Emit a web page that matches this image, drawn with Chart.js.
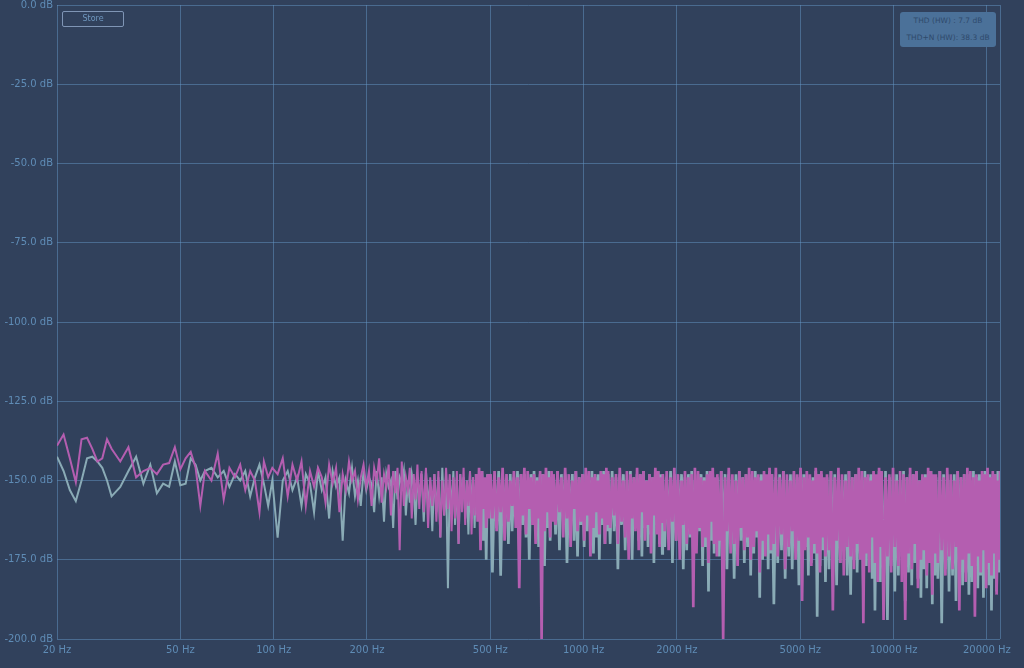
<!DOCTYPE html>
<html>
<head>
<meta charset="utf-8">
<script src="https://cdn.jsdelivr.net/npm/chart.js@4.4.0/dist/chart.umd.min.js"></script>
<style>
  html, body { margin: 0; padding: 0; background: #31415c; }
  #wrap { position: relative; width: 1024px; height: 668px; }
  #store {
    position: absolute; left: 62px; top: 11px; width: 60px; height: 14px;
    border: 1px solid #7f95b5; border-radius: 2px;
    color: #6f97bf; font: 8px "DejaVu Sans", sans-serif; line-height: 14px; text-align: center;
  }
  #thd {
    position: absolute; left: 900px; top: 12px; width: 96px; height: 35px;
    background: #4b7199; border-radius: 3px;
    color: #2f4a6c; font: 7.5px "DejaVu Sans", sans-serif; text-align: center;
  }
  #thd div { height: 17px; line-height: 18px; }
</style>
</head>
<body>
<div id="wrap">
  <canvas id="spectrumChart" width="1024" height="668"></canvas>
  <div id="store">Store</div>
  <div id="thd"><div>THD (HW) : 7.7 dB</div><div>THD+N (HW): 38.3 dB</div></div>
</div>
<script>
// frequency of each plotted bin (Hz)
const freqs = [
  20, 21, 22, 23, 24, 25, 26, 27, 28, 29, 30,
  32, 34, 36, 38, 40, 42, 44, 46, 48, 50, 52, 54, 56, 58, 60,
  63, 66, 69, 72, 75, 78, 81, 84, 87, 90, 93, 96, 99,
  103, 107, 111, 115, 119, 123, 127, 131, 135, 139, 143, 147, 151, 155, 159, 163, 167, 171, 175, 179, 183, 187, 191, 195, 199,
  203, 207, 211, 215, 219, 223, 227, 231, 235, 239, 243, 247, 251, 255, 259, 263, 267, 271, 275, 279, 283, 287, 291, 295, 299,
  300, 305, 310, 315, 320, 325, 330, 335, 340, 345, 350, 355, 360, 365, 370, 375, 380, 385, 390, 395,
  400, 405, 410, 415, 420, 425, 430, 435, 440, 445, 450, 455, 460, 465, 470, 475, 480, 485, 490, 495,
  500, 508, 516, 524, 532, 540, 548, 556, 564, 572, 580, 588, 596, 604, 612, 620, 628, 636, 644,
  652, 660, 668, 676, 684, 692, 700, 708, 716, 724, 732, 740, 748, 756, 764, 772, 780, 788, 796,
  800, 812, 824, 836, 848, 860, 872, 884, 896, 908, 920, 932, 944, 956, 968, 980, 992,
  1004, 1016, 1028, 1040, 1052, 1064, 1076, 1088, 1100, 1112, 1124, 1136, 1148, 1160, 1172, 1184, 1196,
  1200, 1218, 1236, 1254, 1272, 1290, 1308, 1326, 1344, 1362, 1380, 1398, 1416, 1434, 1452, 1470, 1488,
  1506, 1524, 1542, 1560, 1578, 1596, 1614, 1632, 1650, 1668, 1686, 1704, 1722, 1740, 1758, 1776, 1794,
  1800, 1827, 1854, 1881, 1908, 1935, 1962, 1989, 2016, 2043, 2070, 2097, 2124, 2151, 2178, 2205, 2232,
  2259, 2286, 2313, 2340, 2367, 2394, 2421, 2448, 2475, 2502, 2529, 2556, 2583, 2610, 2637, 2664, 2691,
  2700, 2740, 2780, 2820, 2860, 2900, 2940, 2980, 3020, 3060, 3100, 3140, 3180, 3220, 3260, 3300, 3340,
  3380, 3420, 3460, 3500, 3540, 3580, 3620, 3660, 3700, 3740, 3780, 3820, 3860, 3900, 3940, 3980, 4020,
  4050, 4110, 4170, 4230, 4290, 4350, 4410, 4470, 4530, 4590, 4650, 4710, 4770, 4830, 4890, 4950, 5010,
  5070, 5130, 5190, 5250, 5310, 5370, 5430, 5490, 5550, 5610, 5670, 5730, 5790, 5850, 5910, 5970, 6030,
  6100, 6190, 6280, 6370, 6460, 6550, 6640, 6730, 6820, 6910, 7000, 7090, 7180, 7270, 7360, 7450, 7540,
  7630, 7720, 7810, 7900, 7990, 8080, 8170, 8260, 8350, 8440, 8530, 8620, 8710, 8800, 8890, 8980, 9070,
  9150, 9285, 9420, 9555, 9690, 9825, 9960, 10095, 10230, 10365, 10500, 10635, 10770, 10905, 11040, 11175, 11310,
  11445, 11580, 11715, 11850, 11985, 12120, 12255, 12390, 12525, 12660, 12795, 12930, 13065, 13200, 13335, 13470, 13605,
  13700, 13900, 14100, 14300, 14500, 14700, 14900, 15100, 15300, 15500, 15700, 15900, 16100, 16300, 16500, 16700, 16900, 17100, 17300, 17500, 17700,
  17900, 18100, 18300, 18500, 18700, 18900, 19100, 19300, 19500, 19700, 19900, 20100, 20300, 20500, 20700, 20900, 21100, 21300, 21500, 21700, 21900, 22050
];

// magenta trace (dB)
const pinkDb = [
  -139, -135.5, -143, -150.5, -137, -136.5, -140, -144, -143, -137, -140,
  -144, -139.5, -149, -147, -146, -148, -145, -144.5, -139.5, -146.5, -143, -141, -146, -158, -147,
  -150, -141.5, -156, -146, -149, -145, -153, -147, -150, -160, -144, -149, -146,
  -148, -143, -155, -145, -150, -144, -158, -147, -152, -146, -149, -157, -145, -151, -146, -160, -148, -153, -144, -150, -147, -156, -149, -145, -152,
  -147, -158, -146, -150, -143, -157, -148, -152, -145, -161, -147, -154, -146, -172, -144, -158, -149, -153, -146, -162, -148, -156, -145, -159, -148,
  -147, -160, -146, -165, -149, -158, -148, -163, -147, -168, -150, -161, -146, -159, -148, -166, -149, -162, -147, -170,
  -148, -160, -146, -164, -150, -158, -147, -167, -149, -161, -148, -163, -146, -172, -147, -159, -149, -165, -148, -162,
  -148, -162, -147, -166, -149, -160, -146, -169, -148, -163, -150, -158, -147, -165, -149, -184, -148, -161, -146,
  -167, -147, -159, -149, -164, -148, -170, -150, -162, -147, -200, -148, -166, -146, -160, -149, -168, -147, -163,
  -148, -164, -147, -160, -149, -168, -146, -162, -148, -171, -150, -159, -147, -166, -149, -163, -148,
  -169, -146, -161, -147, -174, -149, -165, -148, -160, -150, -167, -147, -162, -148, -170, -146, -164,
  -147, -165, -149, -161, -148, -170, -146, -163, -150, -168, -147, -175, -148, -162, -149, -166, -146,
  -172, -148, -160, -147, -169, -150, -164, -148, -173, -149, -161, -146, -167, -147, -171, -149, -163,
  -148, -166, -147, -172, -149, -163, -146, -169, -148, -175, -150, -164, -147, -170, -149, -167, -148,
  -190, -146, -173, -147, -165, -149, -171, -150, -168, -148, -176, -147, -163, -146, -170, -149, -174,
  -148, -169, -147, -200, -149, -166, -146, -173, -148, -170, -150, -177, -147, -165, -149, -172, -148,
  -168, -146, -175, -147, -171, -149, -166, -148, -179, -150, -169, -147, -174, -148, -167, -146, -172,
  -148, -170, -146, -174, -149, -167, -147, -178, -148, -171, -150, -166, -147, -175, -148, -169, -146,
  -188, -149, -172, -147, -168, -148, -177, -150, -170, -146, -173, -148, -179, -147, -168, -149, -174,
  -148, -172, -147, -191, -149, -169, -146, -176, -148, -180, -150, -171, -147, -174, -149, -178, -148,
  -170, -146, -175, -147, -195, -149, -173, -148, -179, -150, -168, -147, -176, -148, -182, -146, -171,
  -147, -194, -149, -174, -148, -179, -146, -171, -150, -177, -147, -182, -148, -194, -149, -173, -146,
  -178, -148, -170, -147, -184, -150, -175, -148, -172, -149, -180, -146, -176, -147, -186, -148, -173,
  -148, -176, -147, -172, -149, -180, -146, -174, -148, -178, -150, -171, -147, -191, -149, -175, -148, -182, -146, -173, -147,
  -177, -149, -193, -148, -174, -150, -179, -147, -172, -148, -184, -146, -176, -149, -180, -147, -173, -148, -186, -150, -175, -147
];

// grey trace (dB)
const greyDb = [
  -142.5, -147, -153, -156.5, -150, -143, -142.5, -144, -146, -150, -155,
  -152, -147, -142.5, -151, -145, -154, -151, -152, -144, -151.5, -151, -143, -145, -150, -147,
  -146, -149, -147, -152, -148, -150, -147, -155, -149, -145, -151, -158, -150,
  -168, -150, -147, -153, -149, -158, -148, -151, -160, -147, -153, -149, -162, -147, -152, -149, -169, -150, -154, -146, -155, -150, -158, -147, -153,
  -149, -151, -160, -147, -155, -149, -163, -148, -152, -150, -165, -147, -156, -149, -151, -147, -161, -150, -157, -148, -152, -164, -149, -155, -150,
  -148, -163, -147, -158, -150, -166, -148, -160, -149, -168, -146, -161, -148, -184, -150, -159, -147, -164, -149, -170,
  -148, -157, -149, -162, -150, -167, -147, -160, -149, -165, -148, -158, -149, -163, -147, -169, -150, -175, -148, -161,
  -148, -179, -149, -165, -147, -180, -148, -163, -150, -170, -148, -166, -149, -161, -147, -172, -148, -164, -148,
  -168, -150, -175, -148, -162, -147, -166, -149, -171, -148, -163, -148, -177, -150, -165, -147, -169, -149, -162,
  -149, -167, -147, -172, -148, -163, -148, -176, -150, -165, -148, -169, -147, -174, -149, -164, -148,
  -171, -148, -166, -150, -162, -147, -173, -149, -168, -148, -175, -148, -164, -147, -170, -150, -166,
  -148, -170, -147, -166, -149, -178, -148, -164, -148, -172, -150, -168, -147, -175, -149, -163, -148,
  -169, -148, -174, -147, -165, -150, -171, -148, -167, -149, -176, -148, -164, -147, -170, -148, -173,
  -148, -171, -149, -167, -147, -176, -148, -169, -150, -165, -148, -178, -149, -172, -148, -168, -147,
  -174, -150, -170, -148, -166, -148, -177, -149, -171, -147, -185, -148, -169, -148, -173, -150, -167,
  -149, -174, -147, -170, -148, -178, -148, -168, -150, -181, -148, -172, -147, -169, -149, -176, -148,
  -171, -148, -180, -150, -173, -147, -168, -149, -187, -148, -175, -148, -170, -150, -178, -147, -173,
  -148, -189, -149, -176, -148, -172, -147, -181, -150, -174, -148, -178, -148, -170, -149, -183, -147,
  -175, -148, -171, -148, -180, -150, -176, -149, -173, -147, -193, -148, -177, -148, -172, -150, -182,
  -149, -178, -147, -174, -148, -183, -148, -176, -150, -172, -148, -180, -147, -186, -149, -175, -148,
  -179, -148, -173, -150, -184, -147, -177, -149, -171, -148, -181, -148, -191, -150, -176, -147, -182,
  -148, -182, -147, -194, -149, -177, -148, -185, -148, -180, -150, -174, -147, -188, -149, -179, -148,
  -183, -148, -176, -147, -181, -150, -187, -149, -178, -148, -184, -148, -175, -147, -189, -150, -180,
  -149, -181, -147, -195, -148, -178, -148, -185, -150, -180, -148, -188, -147, -176, -149, -183, -148, -179, -148, -186, -150,
  -182, -147, -177, -149, -184, -148, -180, -148, -187, -147, -178, -150, -183, -148, -191, -149, -181, -148, -185, -147, -179, -148
];

// labelled frequency ticks
const xTicks = [20, 50, 100, 200, 500, 1000, 2000, 5000, 10000, 20000];
const xMax = 22050;

const gridColor = 'rgba(100, 150, 195, 0.5)';
const labelColor = '#5f8cb6';
const labelFont = { family: 'DejaVu Sans', size: 10 };

const toPoints = vals => freqs.map((f, i) => ({ x: f, y: vals[i] }));
// dense bins above ~450 Hz are drawn a bit heavier so the noise floor reads as a band
const bandWidth = c => c.p0.parsed.x >= 450 ? 2.7 : 2;

const ctx = document.getElementById('spectrumChart').getContext('2d');

const spectrumChart = new Chart(ctx, {
    type: 'line',
    data: {
        datasets: [{
            label: 'magenta',
            data: toPoints(pinkDb),
            borderColor: '#b45eb0',
            borderWidth: 2,
            segment: { borderWidth: bandWidth },
            pointRadius: 0,
            tension: 0,
            order: 0
        }, {
            label: 'grey',
            data: toPoints(greyDb),
            borderColor: '#8aabb6',
            borderWidth: 2,
            segment: { borderWidth: bandWidth },
            pointRadius: 0,
            tension: 0,
            order: 1
        }]
    },
    options: {
        responsive: false,
        animation: false,
        devicePixelRatio: 1,
        layout: { padding: { right: 24, top: 5 } },
        plugins: {
            legend: { display: false },
            tooltip: { enabled: false }
        },
        scales: {
            x: {
                type: 'logarithmic',
                min: 20,
                max: xMax,
                afterBuildTicks: scale => {
                    scale.ticks = xTicks.concat([xMax]).map(v => ({ value: v }));
                },
                afterFit: scale => { scale.height = 29; },
                ticks: {
                    autoSkip: false,
                    maxRotation: 0,
                    padding: 5,
                    color: labelColor,
                    font: labelFont,
                    callback: v => xTicks.includes(v) ? v + ' Hz' : ''
                },
                grid: { color: gridColor, drawTicks: false },
                border: { display: false }
            },
            y: {
                min: -200,
                max: 0,
                afterFit: scale => {
                    scale.width = 57;
                    scale.paddingTop = 0;
                    scale.paddingBottom = 0;
                },
                ticks: {
                    stepSize: 25,
                    padding: 4,
                    color: labelColor,
                    font: labelFont,
                    callback: v => v.toFixed(1) + ' dB'
                },
                grid: { color: gridColor, drawTicks: false },
                border: { display: false }
            }
        }
    }
});
</script>
</body>
</html>
